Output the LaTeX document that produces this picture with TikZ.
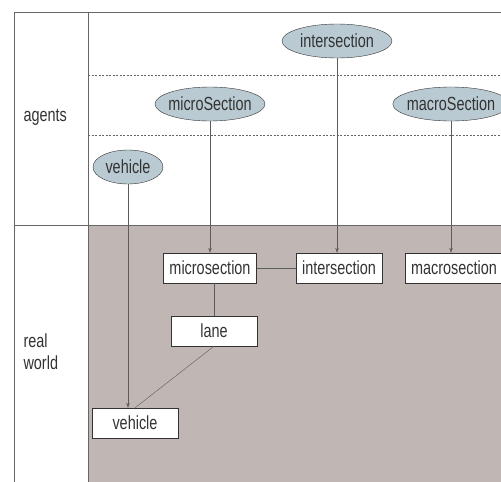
\documentclass[tikz,border=0pt]{standalone}
\usepackage{fontspec}
\setmainfont{Liberation Sans}[FakeStretch=0.76]
\usetikzlibrary{shapes,arrows,arrows.meta,positioning}
\definecolor{world}{rgb}{.753,.718,.706}
\definecolor{agentblue}{rgb}{.725,.792,.827}
\definecolor{rule}{gray}{.40}
\definecolor{ink}{gray}{.20}

\begin{document}
\begin{tikzpicture}[x=1pt,y=-1pt,% one unit is one pixel of the reference
				every node/.style={
					text=ink,
					font=\fontsize{19}{22}\selectfont
				},
				agent/.style={ellipse,draw=ink,fill=agentblue,inner xsep=-3pt,inner ysep=0pt,minimum width=110pt,minimum height=34pt},
				thing/.style={rectangle,draw=ink,fill=white,inner xsep=6pt,inner ysep=0pt,minimum width=86pt,minimum height=30pt},
				every edge/.style={draw=ink!80,thin}
			]
			\useasboundingbox (0,0) rectangle (501,482);
			\clip (0,0) rectangle (501,482);
			% layers
			\fill[world] (88,225) rectangle (510,490);
			\draw[rule,thick] (14,490) -- (14,12) -- (510,12);
			\draw[rule] (88,12) -- (88,490);
			\draw[rule,thick] (14,225) -- (510,225);
			\draw[rule,dash pattern=on 2pt off 1.5pt] (88,75) -- (510,75);
			\draw[rule,dash pattern=on 2pt off 1.5pt] (88,135) -- (510,135);
			\node[anchor=west](Lagents) at (20,117){agents};
			\node[anchor=west,align=left](Lworld) at (20,352){real\\world};
			% agents
			\node[agent](aInter) at (337,41){intersection};
			\node[agent](aMicro) at (210,104){microSection};
			\node[agent,minimum width=112pt](aMacro) at (451,104){macroSection};
			\node[agent,minimum width=70pt](aVeh) at (128,167){vehicle};
			% real world
			\node[thing](rMicro) at (210,268){microsection};
			\node[thing](rInter) at (339,268){intersection};
			\node[thing](rMacro) at (454,268){macrosection};
			\node[thing](rLane) at (214,331){lane};
			\node[thing](rVeh) at (135,423){vehicle};
			\path[-{Stealth[length=5pt,width=3.5pt]}]
			(aInter)edge [] (aInter |- rInter.north)
			(aMicro)edge [] (rMicro)
			(aMacro)edge [] (aMacro |- rMacro.north)
			(aVeh)edge [] (aVeh |- rVeh.north)
			;
			\path
			(rMicro)edge [] (rInter)
			(rLane)edge [] (rLane |- rMicro.south)
			(rLane.south)edge [] (rVeh.north)
			;
		\end{tikzpicture}
\end{document}
